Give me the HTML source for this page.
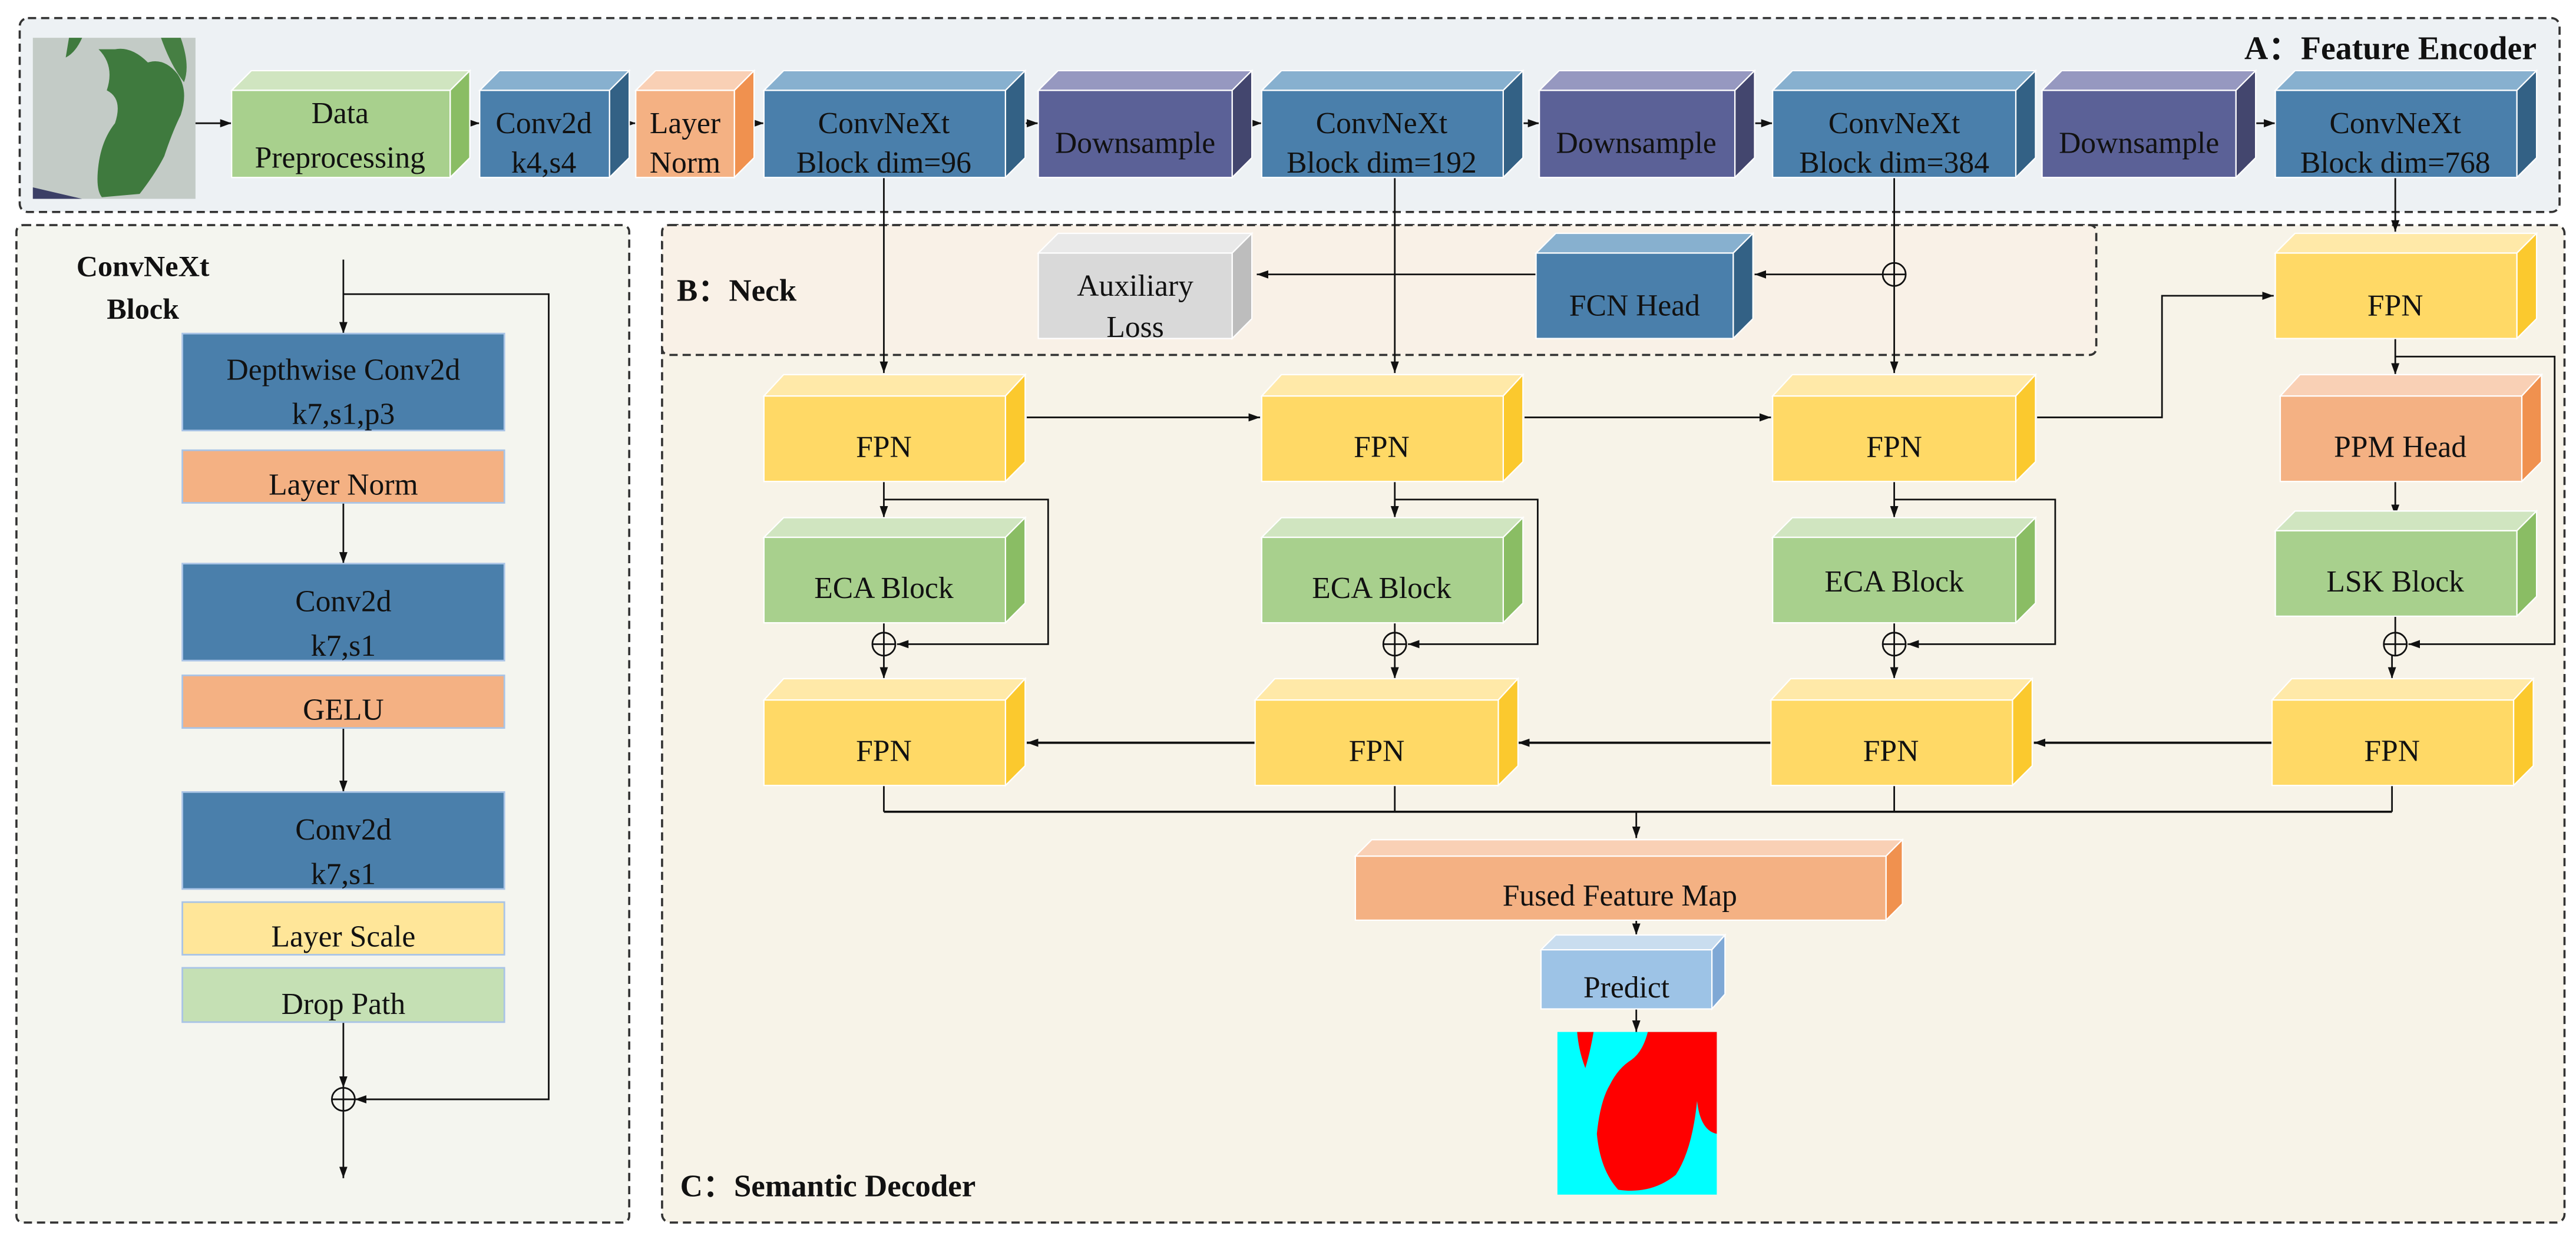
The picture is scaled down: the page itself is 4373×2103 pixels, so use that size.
<!DOCTYPE html>
<html><head><meta charset="utf-8"><style>html,body{margin:0;padding:0;background:#fff}svg{display:block}text{font-family:"Liberation Serif","Times New Roman","DejaVu Serif",serif;fill:#111}</style></head><body>
<svg width="4373" height="2103" viewBox="0 0 1568 754" preserveAspectRatio="none" xmlns="http://www.w3.org/2000/svg" font-family="Liberation Serif, Times New Roman, DejaVu Serif, serif">
<defs>
<marker id="a" markerWidth="8" markerHeight="8" refX="7" refY="4" orient="auto" markerUnits="userSpaceOnUse"><path d="M0,1.5 L7,4 L0,6.5 Z" fill="#111"/></marker>
</defs>
<rect width="1568" height="754" fill="#fff"/>
<rect x="12" y="11" width="1546" height="118" rx="5" fill="#edf1f4" stroke="#333" stroke-width="1.3" stroke-dasharray="5,3"/>
<rect x="10" y="137" width="373" height="607" rx="4" fill="#f4f5ef" stroke="#333" stroke-width="1.3" stroke-dasharray="5,3"/>
<rect x="403" y="137" width="1158" height="607" rx="5" fill="#f7f3e8" stroke="#333" stroke-width="1.3" stroke-dasharray="5,3"/>
<rect x="403" y="137" width="873" height="79" rx="4" fill="#f9f1e7" stroke="#333" stroke-width="1.3" stroke-dasharray="5,3"/>
<text x="1544" y="36" font-size="20" font-weight="bold" text-anchor="end">A：Feature Encoder</text>
<text x="412" y="183" font-size="19" font-weight="bold">B：Neck</text>
<text x="414" y="728" font-size="19" font-weight="bold">C：Semantic Decoder</text>
<text x="87" y="168" font-size="18" font-weight="bold" text-anchor="middle">ConvNeXt</text>
<text x="87" y="194" font-size="18" font-weight="bold" text-anchor="middle">Block</text>
<rect x="20" y="23" width="99" height="98" fill="#c3cbc6"/>
<path d="M42,23 L50,23 Q46,32 40,35 Z" fill="#3f7a3e"/>
<path d="M60,30 Q70,40 65,55 Q75,60 70,75 Q62,85 60,100 Q58,115 62,120 L85,118 Q95,105 100,95 Q105,80 110,70 Q115,55 108,45 Q100,35 90,38 Q80,28 70,30 Z" fill="#3f7a3e"/>
<path d="M98,23 L110,23 Q116,40 112,50 Q104,40 98,23 Z" fill="#467f43"/>
<path d="M20,114 L50,121 L20,121 Z" fill="#3b3f66"/>
<g stroke="#111" stroke-width="1" fill="none">
<line x1="119" y1="75" x2="141" y2="75" marker-end="url(#a)"/>
<line x1="286" y1="75" x2="292" y2="75" marker-end="url(#a)"/>
<line x1="383" y1="75" x2="387" y2="75" marker-end="url(#a)"/>
<line x1="459" y1="75" x2="465" y2="75" marker-end="url(#a)"/>
<line x1="624" y1="75" x2="632" y2="75" marker-end="url(#a)"/>
<line x1="762" y1="75" x2="768" y2="75" marker-end="url(#a)"/>
<line x1="927" y1="75" x2="937" y2="75" marker-end="url(#a)"/>
<line x1="1068" y1="75" x2="1079" y2="75" marker-end="url(#a)"/>
<line x1="1373" y1="75" x2="1385" y2="75" marker-end="url(#a)"/>
<line x1="538" y1="108" x2="538" y2="227" marker-end="url(#a)"/>
<line x1="849" y1="108" x2="849" y2="227" marker-end="url(#a)"/>
<line x1="1153" y1="108" x2="1153" y2="227" marker-end="url(#a)"/>
<line x1="1458" y1="108" x2="1458" y2="141" marker-end="url(#a)"/>
<line x1="1146" y1="167" x2="1068" y2="167" marker-end="url(#a)"/>
<line x1="935" y1="167" x2="765" y2="167" marker-end="url(#a)"/>
<line x1="625" y1="254" x2="767" y2="254" marker-end="url(#a)"/>
<line x1="928" y1="254" x2="1078" y2="254" marker-end="url(#a)"/>
<polyline points="1240,254 1316,254 1316,180 1384,180" marker-end="url(#a)"/>
<line x1="1458" y1="206" x2="1458" y2="228" marker-end="url(#a)"/>
<polyline points="1458,217 1555,217 1555,392 1466,392" marker-end="url(#a)"/>
<line x1="1458" y1="293" x2="1458" y2="314" marker-end="url(#a)"/>
<line x1="538" y1="293" x2="538" y2="315" marker-end="url(#a)"/>
<line x1="849" y1="293" x2="849" y2="315" marker-end="url(#a)"/>
<line x1="1153" y1="293" x2="1153" y2="315" marker-end="url(#a)"/>
<polyline points="538,304 638,304 638,392 546,392" marker-end="url(#a)"/>
<polyline points="849,304 936,304 936,392 857,392" marker-end="url(#a)"/>
<polyline points="1153,304 1251,304 1251,392 1161,392" marker-end="url(#a)"/>
<line x1="538" y1="379" x2="538" y2="385"/>
<line x1="849" y1="379" x2="849" y2="385"/>
<line x1="1153" y1="379" x2="1153" y2="385"/>
<line x1="1458" y1="375" x2="1458" y2="385"/>
<line x1="538" y1="399" x2="538" y2="413" marker-end="url(#a)"/>
<line x1="849" y1="399" x2="849" y2="413" marker-end="url(#a)"/>
<line x1="1153" y1="399" x2="1153" y2="413" marker-end="url(#a)"/>
<line x1="1456" y1="399" x2="1456" y2="413" marker-end="url(#a)"/>
<line x1="764" y1="452" x2="625" y2="452" stroke-width="1.4" marker-end="url(#a)"/>
<line x1="1078" y1="452" x2="924" y2="452" stroke-width="1.4" marker-end="url(#a)"/>
<line x1="1383" y1="452" x2="1238" y2="452" stroke-width="1.4" marker-end="url(#a)"/>
<line x1="538" y1="478" x2="538" y2="494"/>
<line x1="849" y1="478" x2="849" y2="494"/>
<line x1="1153" y1="478" x2="1153" y2="494"/>
<line x1="1456" y1="478" x2="1456" y2="494"/>
<line x1="538" y1="494" x2="1456" y2="494" stroke-width="1.3"/>
<line x1="996" y1="494" x2="996" y2="510" marker-end="url(#a)"/>
<line x1="996" y1="560" x2="996" y2="569" marker-end="url(#a)"/>
<line x1="996" y1="614" x2="996" y2="628" marker-end="url(#a)"/>
<line x1="209" y1="158" x2="209" y2="203" marker-end="url(#a)"/>
<polyline points="209,179 334,179 334,669 216,669" marker-end="url(#a)"/>
<line x1="209" y1="306" x2="209" y2="343" marker-end="url(#a)"/>
<line x1="209" y1="443" x2="209" y2="482" marker-end="url(#a)"/>
<line x1="209" y1="622" x2="209" y2="662" marker-end="url(#a)"/>
<line x1="209" y1="676" x2="209" y2="717" marker-end="url(#a)"/>
</g>
<g stroke="#111" stroke-width="1" fill="none">
<g transform="translate(1153,167)"><circle r="7"/><line x1="-7" x2="7"/><line y1="-7" y2="7"/></g>
<g transform="translate(538,392)"><circle r="7"/><line x1="-7" x2="7"/><line y1="-7" y2="7"/></g>
<g transform="translate(849,392)"><circle r="7"/><line x1="-7" x2="7"/><line y1="-7" y2="7"/></g>
<g transform="translate(1153,392)"><circle r="7"/><line x1="-7" x2="7"/><line y1="-7" y2="7"/></g>
<g transform="translate(1458,392)"><circle r="7"/><line x1="-7" x2="7"/><line y1="-7" y2="7"/></g>
<g transform="translate(209,669)"><circle r="7"/><line x1="-7" x2="7"/><line y1="-7" y2="7"/></g>
</g>
<g stroke="#fff" stroke-width="0.8">
<polygon points="141,55 153,43 286,43 274,55" fill="#d0e5c0"/><polygon points="274,55 286,43 286,96 274,108" fill="#8abd64"/><rect x="141" y="55" width="133" height="53" fill="#a8d08d"/>
<polygon points="292,55 304,43 383,43 371,55" fill="#87b0cf"/><polygon points="371,55 383,43 383,96 371,108" fill="#336185"/><rect x="292" y="55" width="79" height="53" fill="#4a7fab"/>
<polygon points="387,55 399,43 459,43 447,55" fill="#f9d0b5"/><polygon points="447,55 459,43 459,96 447,108" fill="#f0914f"/><rect x="387" y="55" width="60" height="53" fill="#f4b183"/>
<polygon points="465,55 477,43 624,43 612,55" fill="#87b0cf"/><polygon points="612,55 624,43 624,96 612,108" fill="#336185"/><rect x="465" y="55" width="147" height="53" fill="#4a7fab"/>
<polygon points="632,55 644,43 762,43 750,55" fill="#9698c0"/><polygon points="750,55 762,43 762,96 750,108" fill="#43466e"/><rect x="632" y="55" width="118" height="53" fill="#5b6197"/>
<polygon points="768,55 780,43 927,43 915,55" fill="#87b0cf"/><polygon points="915,55 927,43 927,96 915,108" fill="#336185"/><rect x="768" y="55" width="147" height="53" fill="#4a7fab"/>
<polygon points="937,55 949,43 1068,43 1056,55" fill="#9698c0"/><polygon points="1056,55 1068,43 1068,96 1056,108" fill="#43466e"/><rect x="937" y="55" width="119" height="53" fill="#5b6197"/>
<polygon points="1079,55 1091,43 1239,43 1227,55" fill="#87b0cf"/><polygon points="1227,55 1239,43 1239,96 1227,108" fill="#336185"/><rect x="1079" y="55" width="148" height="53" fill="#4a7fab"/>
<polygon points="1243,55 1255,43 1373,43 1361,55" fill="#9698c0"/><polygon points="1361,55 1373,43 1373,96 1361,108" fill="#43466e"/><rect x="1243" y="55" width="118" height="53" fill="#5b6197"/>
<polygon points="1385,55 1397,43 1544,43 1532,55" fill="#87b0cf"/><polygon points="1532,55 1544,43 1544,96 1532,108" fill="#336185"/><rect x="1385" y="55" width="147" height="53" fill="#4a7fab"/>
<polygon points="632,154 644,142 762,142 750,154" fill="#e9e9e9"/><polygon points="750,154 762,142 762,194 750,206" fill="#bdbdbd"/><rect x="632" y="154" width="118" height="52" fill="#d9d9d9"/>
<polygon points="935,154 947,142 1067,142 1055,154" fill="#87b0cf"/><polygon points="1055,154 1067,142 1067,194 1055,206" fill="#336185"/><rect x="935" y="154" width="120" height="52" fill="#4a7fab"/>
<polygon points="1385,154 1397,142 1544,142 1532,154" fill="#ffe9a8"/><polygon points="1532,154 1544,142 1544,194 1532,206" fill="#fbc92e"/><rect x="1385" y="154" width="147" height="52" fill="#ffd966"/>
<polygon points="465,241 477,228 624,228 612,241" fill="#ffe9a8"/><polygon points="612,241 624,228 624,281 612,293" fill="#fbc92e"/><rect x="465" y="241" width="147" height="52" fill="#ffd966"/>
<polygon points="768,241 780,228 927,228 915,241" fill="#ffe9a8"/><polygon points="915,241 927,228 927,281 915,293" fill="#fbc92e"/><rect x="768" y="241" width="147" height="52" fill="#ffd966"/>
<polygon points="1079,241 1091,228 1239,228 1227,241" fill="#ffe9a8"/><polygon points="1227,241 1239,228 1239,281 1227,293" fill="#fbc92e"/><rect x="1079" y="241" width="148" height="52" fill="#ffd966"/>
<polygon points="1388,241 1400,228 1547,228 1535,241" fill="#f9d0b5"/><polygon points="1535,241 1547,228 1547,281 1535,293" fill="#f0914f"/><rect x="1388" y="241" width="147" height="52" fill="#f4b183"/>
<polygon points="465,327 477,315 624,315 612,327" fill="#d0e5c0"/><polygon points="612,327 624,315 624,367 612,379" fill="#8abd64"/><rect x="465" y="327" width="147" height="52" fill="#a8d08d"/>
<polygon points="768,327 780,315 927,315 915,327" fill="#d0e5c0"/><polygon points="915,327 927,315 927,367 915,379" fill="#8abd64"/><rect x="768" y="327" width="147" height="52" fill="#a8d08d"/>
<polygon points="1079,327 1091,315 1239,315 1227,327" fill="#d0e5c0"/><polygon points="1227,327 1239,315 1239,367 1227,379" fill="#8abd64"/><rect x="1079" y="327" width="148" height="52" fill="#a8d08d"/>
<polygon points="1385,323 1397,311 1544,311 1532,323" fill="#d0e5c0"/><polygon points="1532,323 1544,311 1544,363 1532,375" fill="#8abd64"/><rect x="1385" y="323" width="147" height="52" fill="#a8d08d"/>
<polygon points="465,426 477,413 624,413 612,426" fill="#ffe9a8"/><polygon points="612,426 624,413 624,466 612,478" fill="#fbc92e"/><rect x="465" y="426" width="147" height="52" fill="#ffd966"/>
<polygon points="764,426 776,413 924,413 912,426" fill="#ffe9a8"/><polygon points="912,426 924,413 924,466 912,478" fill="#fbc92e"/><rect x="764" y="426" width="148" height="52" fill="#ffd966"/>
<polygon points="1078,426 1090,413 1237,413 1225,426" fill="#ffe9a8"/><polygon points="1225,426 1237,413 1237,466 1225,478" fill="#fbc92e"/><rect x="1078" y="426" width="147" height="52" fill="#ffd966"/>
<polygon points="1383,426 1395,413 1542,413 1530,426" fill="#ffe9a8"/><polygon points="1530,426 1542,413 1542,466 1530,478" fill="#fbc92e"/><rect x="1383" y="426" width="147" height="52" fill="#ffd966"/>
<polygon points="825,521 835,511 1158,511 1148,521" fill="#f9d0b5"/><polygon points="1148,521 1158,511 1158,550 1148,560" fill="#f0914f"/><rect x="825" y="521" width="323" height="39" fill="#f4b183"/>
<polygon points="938,578 947,569 1050,569 1042,578" fill="#c9ddef"/><polygon points="1042,578 1050,569 1050,605 1042,614" fill="#7fa8d5"/><rect x="938" y="578" width="104" height="36" fill="#9dc3e6"/>
</g>
<g stroke="#a9c4e6" stroke-width="1">
<rect x="111" y="203" width="196" height="59" fill="#4a7fab"/>
<rect x="111" y="274" width="196" height="32" fill="#f4b183"/>
<rect x="111" y="343" width="196" height="59" fill="#4a7fab"/>
<rect x="111" y="411" width="196" height="32" fill="#f4b183"/>
<rect x="111" y="482" width="196" height="59" fill="#4a7fab"/>
<rect x="111" y="549" width="196" height="32" fill="#ffe699"/>
<rect x="111" y="589" width="196" height="33" fill="#c5e0b4"/>
</g>
<rect x="948" y="628" width="97" height="99" fill="#00ffff"/>
<path d="M960,628 L970,628 Q968,640 965,650 Q961,640 960,628 Z M1003,628 L1045,628 L1045,690 Q1035,688 1033,670 Q1030,700 1020,715 Q1005,727 985,724 Q974,712 972,690 Q974,670 980,660 Q985,650 993,645 Q1000,640 1003,628 Z" fill="#ff0000"/>
<g font-size="18.5" text-anchor="middle">
<text x="207" y="75">Data</text><text x="207" y="102">Preprocessing</text>
<text x="331" y="81">Conv2d</text><text x="331" y="105">k4,s4</text>
<text x="417" y="81">Layer</text><text x="417" y="105">Norm</text>
<text x="538" y="81">ConvNeXt</text><text x="538" y="105">Block dim=96</text>
<text x="691" y="93">Downsample</text>
<text x="841" y="81">ConvNeXt</text><text x="841" y="105">Block dim=192</text>
<text x="996" y="93">Downsample</text>
<text x="1153" y="81">ConvNeXt</text><text x="1153" y="105">Block dim=384</text>
<text x="1302" y="93">Downsample</text>
<text x="1458" y="81">ConvNeXt</text><text x="1458" y="105">Block dim=768</text>
<text x="691" y="180">Auxiliary</text><text x="691" y="205">Loss</text>
<text x="995" y="192">FCN Head</text>
<text x="1458" y="192">FPN</text>
<text x="538" y="278">FPN</text><text x="841" y="278">FPN</text><text x="1153" y="278">FPN</text>
<text x="1461" y="278">PPM Head</text>
<text x="538" y="364">ECA Block</text><text x="841" y="364">ECA Block</text><text x="1153" y="360">ECA Block</text>
<text x="1458" y="360">LSK Block</text>
<text x="538" y="463">FPN</text><text x="838" y="463">FPN</text><text x="1151" y="463">FPN</text><text x="1456" y="463">FPN</text>
<text x="986" y="551">Fused Feature Map</text>
<text x="990" y="607">Predict</text>
<text x="209" y="231">Depthwise Conv2d</text><text x="209" y="258">k7,s1,p3</text>
<text x="209" y="301">Layer Norm</text>
<text x="209" y="372">Conv2d</text><text x="209" y="399">k7,s1</text>
<text x="209" y="438">GELU</text>
<text x="209" y="511">Conv2d</text><text x="209" y="538">k7,s1</text>
<text x="209" y="576">Layer Scale</text>
<text x="209" y="617">Drop Path</text>
</g>
</svg>
</body></html>
